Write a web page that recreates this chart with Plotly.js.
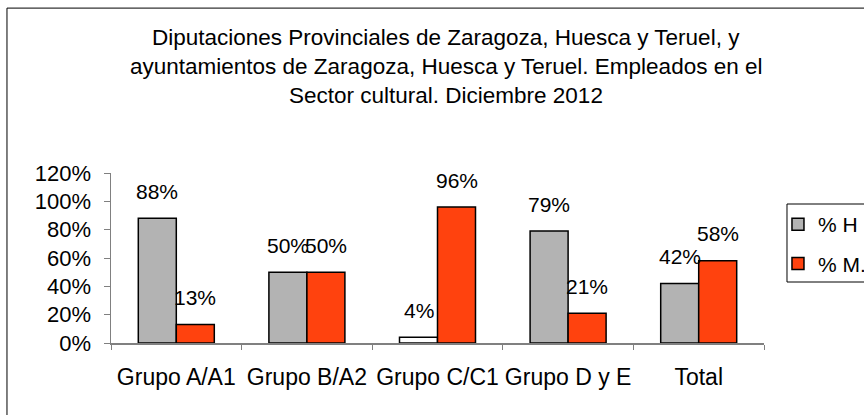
<!DOCTYPE html>
<html>
<head>
<meta charset="utf-8">
<script src="https://cdn.plot.ly/plotly-3.0.1.min.js"></script>
<style>
html,body{margin:0;padding:0;background:#fff;}
#chart{width:864px;height:415px;}
</style>
</head>
<body>
<div id="chart"></div>
<script>
// ---- data ----
const categories = ["Grupo A/A1", "Grupo B/A2", "Grupo C/C1", "Grupo D y E", "Total"];
const seriesNames = ["% H", "% M."];
const pctH = [0.88, 0.50, 0.04, 0.79, 0.42];
const pctM = [0.13, 0.50, 0.96, 0.21, 0.58];
const titleLines = [
  "Diputaciones Provinciales de Zaragoza, Huesca y Teruel, y",
  "ayuntamientos de Zaragoza, Huesca y Teruel. Empleados en el",
  "Sector cultural. Diciembre 2012"
];
const yTickVals = [0, 0.2, 0.4, 0.6, 0.8, 1.0, 1.2];
const yTickText = ["0%", "20%", "40%", "60%", "80%", "100%", "120%"];

// ---- styles ----
const FONT = "Liberation Sans, Arial, sans-serif";
const GREY = "#b3b3b3";
const RED = "#ff420e";
const hColors = pctH.map((v, i) => i === 2 ? "#ffffff" : GREY);

const traces = [
  {type: "bar", name: seriesNames[0], x: categories, y: pctH,
   marker: {color: hColors, line: {color: "#000", width: 1.5}},
   legendgroup: "h", hoverinfo: "none"},
  {type: "bar", name: seriesNames[1], x: categories, y: pctM,
   marker: {color: RED, line: {color: "#000", width: 1.5}},
   legendgroup: "m", hoverinfo: "none"}
];

const annotations = [];
titleLines.forEach((t, i) => {
  annotations.push({xref: "paper", yref: "paper", x: 0.513, y: [1.8, 1.629, 1.456][i],
    xanchor: "center", yanchor: "middle", text: t, showarrow: false,
    font: {family: FONT, size: 22.5, color: "#000"}});
});
function pctLabel(v){ return Math.round(v * 100) + "%"; }
categories.forEach((c, i) => {
  annotations.push({x: c, y: pctH[i], xref: "x", yref: "y", text: pctLabel(pctH[i]),
    showarrow: false, xshift: -19, yshift: 27, yanchor: "middle", xanchor: "center",
    font: {family: FONT, size: 21, color: "#000"}});
  annotations.push({x: c, y: pctM[i], xref: "x", yref: "y", text: pctLabel(pctM[i]),
    showarrow: false, xshift: 19, yshift: 27, yanchor: "middle", xanchor: "center",
    font: {family: FONT, size: 21, color: "#000"}});
});

const layout = {
  width: 864, height: 415,
  margin: {l: 111, r: 100, t: 173, b: 72, autoexpand: false},
  paper_bgcolor: "#fff", plot_bgcolor: "#fff",
  font: {family: FONT, size: 20, color: "#000"},
  barmode: "group", bargap: 0.418, bargroupgap: 0,
  showlegend: true,
  legend: {x: 1.0214, y: 0.8176, xanchor: "left", yanchor: "top",
    borderwidth: 0, bgcolor: "rgba(0,0,0,0)",
    font: {family: FONT, size: 21, color: "#000"},
    traceorder: "grouped", tracegroupgap: 9},
  xaxis: {type: "category", showline: true, linecolor: "#808080", linewidth: 1.5,
    ticks: "outside", tickson: "boundaries", ticklen: 5, tickcolor: "#808080",
    showgrid: false, zeroline: false, fixedrange: true, ticklabelstandoff: 13,
    tickangle: 0,
    tickfont: {family: FONT, size: 23, color: "#000"}},
  yaxis: {range: [0, 1.2], tickvals: yTickVals, ticktext: yTickText,
    showline: true, linecolor: "#808080", linewidth: 1.5,
    ticks: "outside", ticklen: 6, tickcolor: "#808080",
    showgrid: false, zeroline: false, fixedrange: true, ticklabelstandoff: 8,
    tickfont: {family: FONT, size: 22, color: "#000"}},
  shapes: [
    {type: "rect", xref: "paper", yref: "paper",
     x0: -0.1593, x1: 2, y0: -1, y1: 1.97,
     line: {color: "#000", width: 1}, fillcolor: "rgba(0,0,0,0)", layer: "below"},
    {type: "rect", xref: "paper", yref: "paper",
     x0: 1.0352, x1: 2, y0: 0.3588, y1: 0.8176,
     line: {color: "#000", width: 1}, fillcolor: "rgba(0,0,0,0)", layer: "below"}
  ],
  annotations: annotations
};

Plotly.newPlot("chart", traces, layout, {displayModeBar: false, staticPlot: true});
</script>
</body>
</html>
